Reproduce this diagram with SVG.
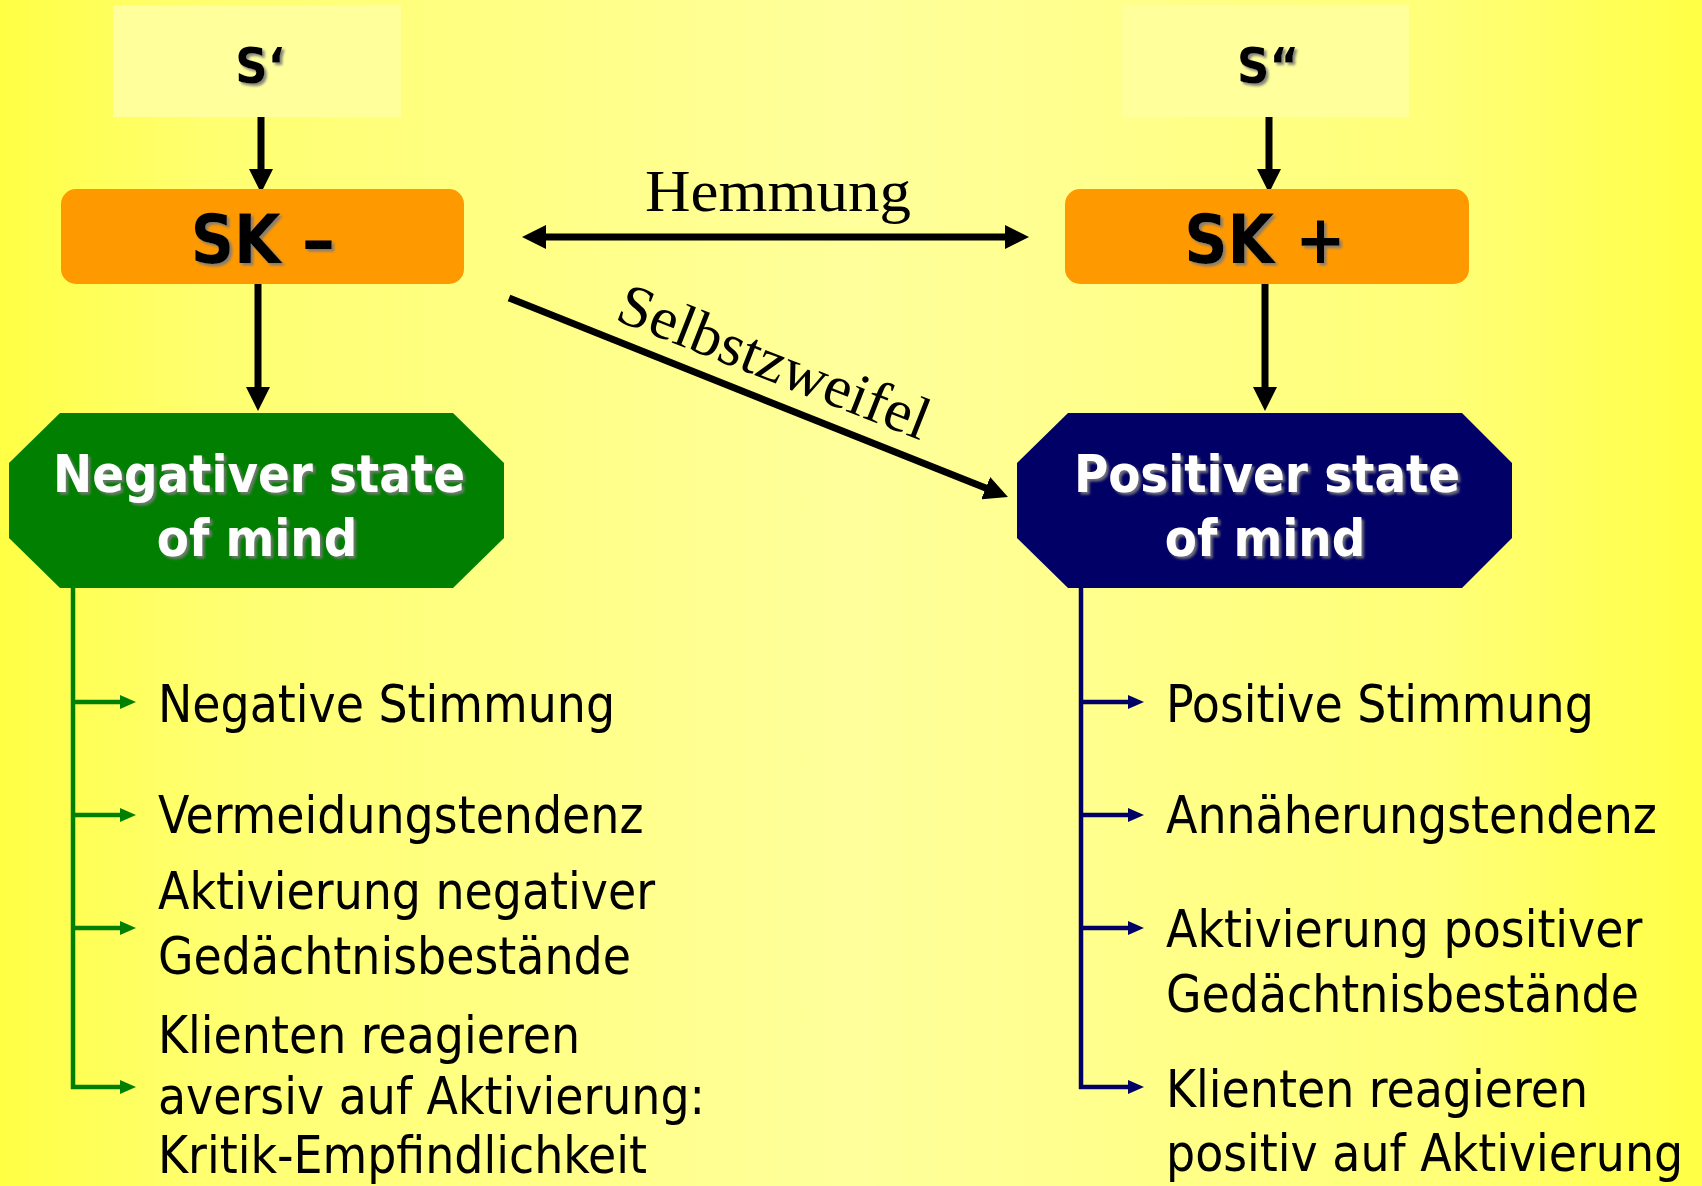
<svg xmlns="http://www.w3.org/2000/svg" width="1702" height="1186" viewBox="0 0 1702 1186">
  <defs>
    <linearGradient id="bg" x1="0" y1="0" x2="1" y2="0">
      <stop offset="0" stop-color="#FFFF45"/>
      <stop offset="0.12" stop-color="#FFFF70"/>
      <stop offset="0.5" stop-color="#FFFF9C"/>
      <stop offset="0.85" stop-color="#FFFF78"/>
      <stop offset="1" stop-color="#FFFF45"/>
    </linearGradient>
    <filter id="shadow" x="-10%" y="-20%" width="130%" height="150%">
      <feDropShadow dx="2.5" dy="2.5" stdDeviation="1.2" flood-color="#7a7a7a" flood-opacity="0.9"/>
    </filter>
    <marker id="ahBlack" viewBox="0 0 24 24" markerWidth="24" markerHeight="24" refX="4" refY="12" orient="auto-start-reverse" markerUnits="userSpaceOnUse">
      <path d="M0,0 L24,12 L0,24 z" fill="#000"/>
    </marker>
    <marker id="ahGreen" viewBox="0 0 16 16" markerWidth="16" markerHeight="16" refX="3" refY="8" orient="auto" markerUnits="userSpaceOnUse">
      <path d="M0,1 L16,8 L0,15 z" fill="#008000"/>
    </marker>
    <marker id="ahNavy" viewBox="0 0 16 16" markerWidth="16" markerHeight="16" refX="3" refY="8" orient="auto" markerUnits="userSpaceOnUse">
      <path d="M0,1 L16,8 L0,15 z" fill="#000066"/>
    </marker>
  </defs>
  <style>
    .sbox { fill: #FFFF9C; }
    .sk { fill: #FF9900; }
    .sans { font-family: "DejaVu Sans Condensed", "DejaVu Sans", sans-serif; font-stretch: condensed; }
    .b { font-weight: bold; }
    .big { font-size: 50px; fill: #000; text-anchor: middle; }
    .sktxt { font-size: 67px; fill: #000; text-anchor: middle; }
    .state { font-size: 52px; fill: #fff; text-anchor: middle; }
    .item { font-size: 51px; fill: #000; }
    .serif { font-family: "Liberation Serif", "Times New Roman", serif; font-size: 60px; fill: #000; text-anchor: middle; }
    .blk { stroke: #000; stroke-width: 7; fill: none; }
    .grn { stroke: #008000; stroke-width: 4.5; fill: none; }
    .nvy { stroke: #000066; stroke-width: 4.5; fill: none; }
  </style>

  <rect x="0" y="0" width="1702" height="1186" fill="url(#bg)"/>

  <g id="connectors">
    <line class="blk" x1="261" y1="117" x2="261" y2="173" marker-end="url(#ahBlack)"/>
    <line class="blk" x1="1269" y1="117" x2="1269" y2="173" marker-end="url(#ahBlack)"/>
    <line class="blk" x1="258" y1="284" x2="258" y2="391" marker-end="url(#ahBlack)"/>
    <line class="blk" x1="1265" y1="284" x2="1265" y2="391" marker-end="url(#ahBlack)"/>
    <line class="blk" x1="542" y1="237" x2="1009" y2="237" marker-start="url(#ahBlack)" marker-end="url(#ahBlack)"/>
    <line class="blk" stroke-width="8" x1="509" y1="298" x2="989.4" y2="489.6" marker-end="url(#ahBlack)"/>
    <text class="serif" x="778" y="211" textLength="266" lengthAdjust="spacingAndGlyphs">Hemmung</text>
    <text class="serif" transform="translate(767,380) rotate(21.5)" x="0" y="0" textLength="330" lengthAdjust="spacingAndGlyphs">Selbstzweifel</text>

    <path class="grn" d="M73,588 V1089"/>
    <line class="grn" x1="71" y1="702" x2="123" y2="702" marker-end="url(#ahGreen)"/>
    <line class="grn" x1="71" y1="815" x2="123" y2="815" marker-end="url(#ahGreen)"/>
    <line class="grn" x1="71" y1="928" x2="123" y2="928" marker-end="url(#ahGreen)"/>
    <line class="grn" x1="71" y1="1087" x2="123" y2="1087" marker-end="url(#ahGreen)"/>

    <path class="nvy" d="M1081,588 V1089"/>
    <line class="nvy" x1="1079" y1="702" x2="1131" y2="702" marker-end="url(#ahNavy)"/>
    <line class="nvy" x1="1079" y1="815" x2="1131" y2="815" marker-end="url(#ahNavy)"/>
    <line class="nvy" x1="1079" y1="928" x2="1131" y2="928" marker-end="url(#ahNavy)"/>
    <line class="nvy" x1="1079" y1="1087" x2="1131" y2="1087" marker-end="url(#ahNavy)"/>
  </g>

  <g id="s1">
    <rect class="sbox" x="113" y="5" width="288" height="112"/>
    <text class="sans b big" x="260" y="83" filter="url(#shadow)">S‘</text>
  </g>
  <g id="s2">
    <rect class="sbox" x="1121" y="5" width="288" height="112"/>
    <text class="sans b big" x="1268" y="83" filter="url(#shadow)">S“</text>
  </g>

  <g id="skminus">
    <rect class="sk" x="61" y="189" width="403" height="95" rx="15" ry="15"/>
    <text class="sans b sktxt" x="263" y="263" filter="url(#shadow)">SK <tspan font-family="DejaVu Sans" font-stretch="normal">–</tspan></text>
  </g>
  <g id="skplus">
    <rect class="sk" x="1065" y="189" width="404" height="95" rx="15" ry="15"/>
    <text class="sans b sktxt" x="1265" y="263" filter="url(#shadow)">SK +</text>
  </g>

  <g id="negstate">
    <polygon points="60,413 453,413 504,463 504,538 453,588 60,588 9,538 9,463" fill="#007F00"/>
    <text class="sans b state" x="259" y="492" filter="url(#shadow)">Negativer state</text>
    <text class="sans b state" x="257" y="556" filter="url(#shadow)">of mind</text>
  </g>
  <g id="posstate">
    <polygon points="1068,413 1462,413 1512,463 1512,538 1462,588 1068,588 1017,538 1017,463" fill="#000066"/>
    <text class="sans b state" x="1267" y="492" filter="url(#shadow)">Positiver state</text>
    <text class="sans b state" x="1265" y="556" filter="url(#shadow)">of mind</text>
  </g>

  <g id="neglist">
    <text class="sans item" x="158" y="722">Negative Stimmung</text>
    <text class="sans item" x="158" y="833">Vermeidungstendenz</text>
    <text class="sans item" x="158" y="909">Aktivierung negativer</text>
    <text class="sans item" x="158" y="974">Gedächtnisbestände</text>
    <text class="sans item" x="158" y="1053">Klienten reagieren</text>
    <text class="sans item" x="158" y="1114">aversiv auf Aktivierung:</text>
    <text class="sans item" x="158" y="1173">Kritik-Empfindlichkeit</text>
  </g>
  <g id="poslist">
    <text class="sans item" x="1166" y="722">Positive Stimmung</text>
    <text class="sans item" x="1166" y="833">Annäherungstendenz</text>
    <text class="sans item" x="1166" y="947">Aktivierung positiver</text>
    <text class="sans item" x="1166" y="1012">Gedächtnisbestände</text>
    <text class="sans item" x="1166" y="1107">Klienten reagieren</text>
    <text class="sans item" x="1166" y="1171">positiv auf Aktivierung</text>
  </g>
</svg>
